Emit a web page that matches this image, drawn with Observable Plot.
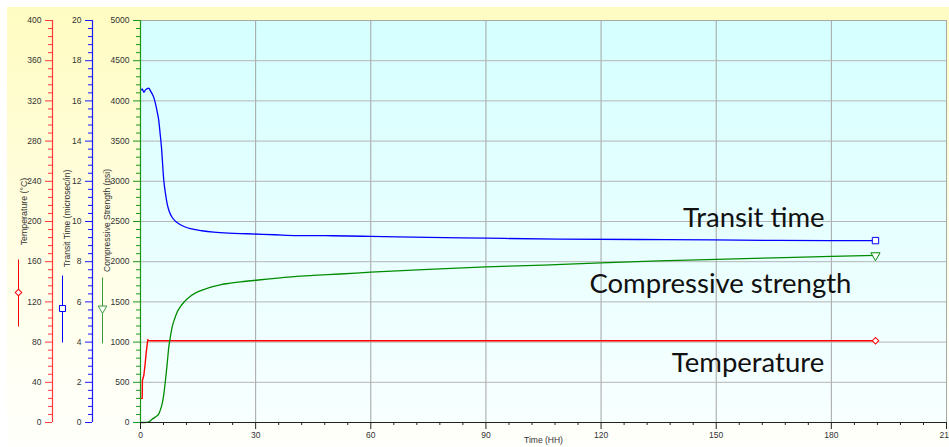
<!DOCTYPE html>
<html><head><meta charset="utf-8">
<script src="https://cdn.jsdelivr.net/npm/d3@7"></script>
<script src="https://cdn.jsdelivr.net/npm/@observablehq/plot@0.6"></script>
<style>
html,body{margin:0;padding:0;background:#fff;}
#wrap{position:relative;width:949px;height:447px;overflow:hidden;}
#panel{position:absolute;left:7px;top:7px;right:0;bottom:0;background:linear-gradient(#fffcc2,#fffff6 85%,#fffffb);}
#chart{position:absolute;left:0;top:0;}
</style></head><body>
<svg width="0" height="0" style="position:absolute"><defs>
<linearGradient id="plotbg" x1="0" y1="0" x2="0" y2="1"><stop offset="0" stop-color="#d5ffff"/><stop offset="1" stop-color="#f8ffff"/></linearGradient>
</defs></svg>
<div id="wrap"><div id="panel"></div><div id="chart"></div></div>
<script>
// ---- tick labels ----
const timeTicks = [0, 30, 60, 90, 120, 150, 180, 210];
const strengthTicks = [0, 500, 1000, 1500, 2000, 2500, 3000, 3500, 4000, 4500, 5000];
const transitTicks = [0, 2, 4, 6, 8, 10, 12, 14, 16, 18, 20];
const tempTicks = [0, 40, 80, 120, 160, 200, 240, 280, 320, 360, 400];

// ---- series (time in hours) ----
const strengthTime   = [0, 1, 2, 3, 3.9, 4.77, 5.2, 5.64, 6.07, 6.5, 6.95, 7.37, 7.8, 8.24, 8.9, 9.54, 10.4, 11.3, 13, 14.75, 17, 19.1, 21, 23.4, 26, 29.5, 33, 36.4, 40, 45, 52, 60, 75, 90, 105, 120, 135, 150, 165, 180, 191.5];
const strengthValues = [0, 0, 5, 40, 70, 108, 160, 232, 350, 522, 730, 937, 1070, 1185, 1290, 1372, 1440, 1496, 1570, 1621, 1662, 1692, 1715, 1733, 1750, 1766, 1784, 1800, 1815, 1830, 1847, 1870, 1905, 1935, 1958, 1985, 2010, 2030, 2048, 2065, 2078];

const transitTime   = [0.3, 0.44, 0.87, 1.3, 2.16, 2.6, 3.04, 3.5, 3.9, 4.3, 4.76, 5.1, 5.46, 6.07, 6.5, 6.95, 7.5, 8.24, 9.0, 9.98, 11.5, 13, 16, 19.1, 23, 27.8, 35, 40.8, 50, 60, 75, 90, 109, 137, 166, 191.5];
const transitValues = [16.55, 16.6, 16.43, 16.55, 16.63, 16.5, 16.35, 16.15, 15.86, 15.5, 15.02, 14.4, 13.7, 12.04, 11.4, 10.88, 10.5, 10.21, 10.03, 9.89, 9.74, 9.64, 9.54, 9.47, 9.42, 9.39, 9.34, 9.30, 9.29, 9.26, 9.21, 9.17, 9.12, 9.10, 9.06, 9.05];

const tempTime   = [0.3, 0.44, 0.5, 0.87, 1.2, 1.5, 1.9, 2.1, 2.4, 3, 5, 10, 20, 40, 60, 80, 100, 120, 140, 160, 180, 191.5];
const tempValues = [24, 24, 42, 47, 58, 70, 82.5, 81.5, 81.3, 81.3, 81.3, 81.3, 81.3, 81.3, 81.3, 81.3, 81.3, 81.3, 81.3, 81.3, 81.3, 81.3];

// ---- annotations (time, psi) ----
const labelTexts = ["Transit time", "Compressive strength", "Temperature"];
const labelTime  = [159.8, 151.1, 158.3];
const labelPsi   = [2546, 1716, 742];

// ---- axis titles ----
const axisTitles = ["Temperature (\u00B0C)", "Transit Time (microsec/in)", "Compressive Strength (psi)"];
const seriesColors = ["#ff0000", "#0000ff", "#008c00"];

const TEMP_TO_PSI = 5000 / 400;
const TRANSIT_TO_PSI = 5000 / 20;

const strengthRows = strengthTime.map((t, i) => ({t, v: strengthValues[i]}));
const transitRows = transitTime.map((t, i) => ({t, v: transitValues[i] * TRANSIT_TO_PSI}));
const tempRows = tempTime.map((t, i) => ({t, v: tempValues[i] * TEMP_TO_PSI}));
const labelRows = labelTexts.map((s, i) => ({s, t: labelTime[i], v: labelPsi[i]}));

const minorPsi = d3.range(0, 5001, 100).filter(d => d % 500 !== 0);
const minorTime = d3.range(0, 211, 6).filter(d => d % 30 !== 0);

const stem = (a, b) => ({draw(ctx) { ctx.moveTo(0, a); ctx.lineTo(0, b); }});

function leftAxis(ticks, fmt, color, dx) {
  return [
    Plot.ruleX([0], {stroke: color, dx, strokeWidth: 1.2}),
    Plot.axisY({ticks, tickFormat: fmt, tickSize: 7, tickPadding: 4, stroke: color, fill: "#333", fontSize: 8.5, dx, label: null}),
    Plot.axisY({ticks: minorPsi, tickFormat: () => "", tickSize: 4, stroke: color, dx, label: null})
  ];
}

const chart = Plot.plot({
  width: 949,
  height: 447,
  marginLeft: 140,
  marginRight: 3,
  marginTop: 20,
  marginBottom: 25,
  style: {background: "transparent", fontFamily: "Liberation Sans, Arial, sans-serif", fontSize: "8.5px", overflow: "visible"},
  x: {domain: [0, 210], label: null},
  y: {domain: [0, 5000], label: null},
  marks: [
    Plot.frame({fill: "url(#plotbg)", stroke: null}),
    Plot.gridX({ticks: timeTicks, stroke: "#a4a4a4", strokeOpacity: 1}),
    Plot.gridY({ticks: strengthTicks, stroke: "#b4b4b4", strokeOpacity: 1}),
    Plot.frame({stroke: "#a8a8a8"}),
    // series
    Plot.line(tempRows, {x: "t", y: "v", stroke: seriesColors[0], strokeWidth: 1.4}),
    Plot.line(strengthRows, {x: "t", y: "v", stroke: seriesColors[2], strokeWidth: 1.3, curve: "monotone-x"}),
    Plot.line(transitRows, {x: "t", y: "v", stroke: seriesColors[1], strokeWidth: 1.3, curve: "monotone-x"}),
    // end markers
    Plot.dot(tempRows, Plot.selectLast({x: "t", y: "v", symbol: "square", rotate: 45, r: 2.6, stroke: seriesColors[0], fill: "white", strokeWidth: 1})),
    Plot.dot(strengthRows, Plot.selectLast({x: "t", y: "v", symbol: "triangle", rotate: 180, r: 3.4, stroke: seriesColors[2], fill: "white", strokeWidth: 1})),
    Plot.dot(transitRows, Plot.selectLast({x: "t", y: "v", symbol: "square", r: 3.6, stroke: seriesColors[1], fill: "white", strokeWidth: 1})),
    // axes
    ...leftAxis(strengthTicks, d => String(d), "#1a961a", 0),
    ...leftAxis(transitTicks.map(d => d * TRANSIT_TO_PSI), d => String(d / TRANSIT_TO_PSI), "#1a1aff", -48),
    ...leftAxis(tempTicks.map(d => d * TEMP_TO_PSI), d => String(d / TEMP_TO_PSI), "#ff3a3a", -88),
    Plot.ruleY([0], {stroke: "#222", strokeWidth: 1.2}),
    Plot.axisX({ticks: timeTicks, tickSize: 7, tickPadding: 2, tickFormat: d => String(d), stroke: "#222", fill: "#333", fontSize: 8.5, label: null}),
    Plot.axisX({ticks: minorTime, tickSize: 3, tickFormat: () => "", stroke: "#222", label: null}),
    Plot.text(["Time (HH)"], {frameAnchor: "bottom", dy: 20, fontSize: 8.5, fill: "#333"}),
    // axis titles
    Plot.text([axisTitles[0]], {frameAnchor: "top-left", dx: -120, dy: 191, rotate: -90, textAnchor: "middle", fontSize: 8.8, fill: "#333"}),
    Plot.text([axisTitles[1]], {frameAnchor: "top-left", dx: -77, dy: 198, rotate: -90, textAnchor: "middle", fontSize: 8.5, fill: "#333"}),
    Plot.text([axisTitles[2]], {frameAnchor: "top-left", dx: -37, dy: 200, rotate: -90, textAnchor: "middle", fontSize: 8.5, fill: "#333"}),
    // legend keys under titles
    Plot.dot([0], {x: null, y: null, frameAnchor: "top-left", dx: -122, dy: 272, symbol: stem(-33, 34), stroke: seriesColors[0], fill: "none", strokeWidth: 1}),
    Plot.dot([0], {x: null, y: null, frameAnchor: "top-left", dx: -122, dy: 272, symbol: "square", rotate: 45, r: 2.6, stroke: seriesColors[0], fill: "white", strokeWidth: 1}),
    Plot.dot([0], {x: null, y: null, frameAnchor: "top-left", dx: -78, dy: 288, symbol: stem(-33, 34), stroke: seriesColors[1], fill: "none", strokeWidth: 1}),
    Plot.dot([0], {x: null, y: null, frameAnchor: "top-left", dx: -78, dy: 288, symbol: "square", r: 3.4, stroke: seriesColors[1], fill: "white", strokeWidth: 1}),
    Plot.dot([0], {x: null, y: null, frameAnchor: "top-left", dx: -38, dy: 288, symbol: stem(-31, 35), stroke: "#3a9a3a", fill: "none", strokeWidth: 1}),
    Plot.dot([0], {x: null, y: null, frameAnchor: "top-left", dx: -38, dy: 288, symbol: "triangle", rotate: 180, r: 3.2, stroke: "#3a9a3a", fill: "white", strokeWidth: 1}),
    // annotations
    Plot.text(labelRows, {x: "t", y: "v", text: "s", fontSize: 27.5, fontFamily: "Lato, 'Open Sans', sans-serif", fill: "#111", textAnchor: "middle"})
  ]
});
document.getElementById("chart").appendChild(chart);
</script>
</body></html>
